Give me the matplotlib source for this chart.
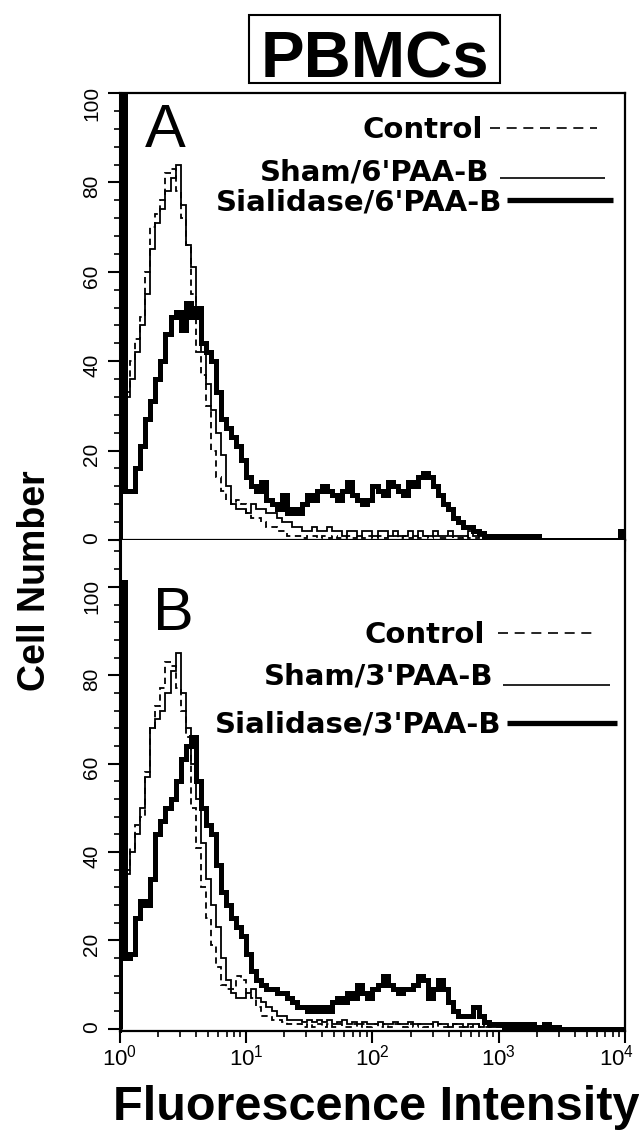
import numpy as np
import matplotlib.pyplot as plt
from matplotlib.patches import Rectangle
from matplotlib.ticker import MultipleLocator, LogLocator, NullFormatter
from matplotlib.transforms import ScaledTranslation

plt.rcParams['font.family'] = ['Liberation Sans', 'DejaVu Sans']
plt.rcParams['mathtext.default'] = 'regular'

# channel edges: 25 channels per decade, 10^0 .. 10^4
edges = np.logspace(0, 4, 101)

# panel A (6'PAA-B) cell counts per channel
ctrl_6 = [30, 33, 40, 45, 50, 60, 70, 73, 76, 82,
          83, 78, 72, 66, 55, 42, 37, 30, 20, 14,
          11, 9, 8, 9, 8, 6, 5, 5, 4, 3,
          3, 2, 2, 1, 1, 1, 0.5, 1, 1, 0.5,
          1, 0.5, 1, 0.5, 0.5, 1, 0.5, 1, 0.5, 1,
          0.5, 1, 0.5, 1, 1, 0.5, 1, 0.5, 1, 0.5,
          1, 0.5, 1, 0.5, 0.5, 1, 0.5, 0.5, 1, 0.5,
          0.5, 1, 0.5, 0.5, 0.5, 0.5, 1, 0.5, 0, 0.5,
          0.5, 0, 0.5, 0, 0, 0, 0, 0, 0, 0,
          0, 0, 0, 0, 0, 0, 0, 0, 0, 0]
sham_6 = [30, 32, 36, 42, 48, 55, 65, 71, 74, 78,
          81, 84, 75, 66, 61, 52, 42, 35, 29, 24,
          19, 12, 8, 7, 7, 6, 8, 7, 7, 6,
          6, 5, 4, 4, 3, 3, 2, 2, 3, 2,
          2, 3, 2, 2, 1, 2, 2, 1, 2, 2,
          1, 2, 2, 1, 2, 1, 1, 2, 1, 2,
          1, 1, 2, 1, 1, 2, 1, 1, 1, 2,
          1, 1, 1, 1, 0.5, 1, 1, 0.5, 1, 0.5,
          1, 0.5, 0.5, 0, 0, 0, 0, 0, 0, 0,
          0, 0, 0, 0, 0, 0, 0, 0, 0, 0]
sial_6 = [101, 11, 11, 16, 21, 27, 31, 36, 40, 46,
          50, 51, 47, 53, 50, 52, 44, 42, 40, 33,
          27, 25, 23, 21, 18, 14, 12, 11, 13, 9,
          8, 7, 10, 6, 7, 6, 8, 10, 9, 11,
          12, 11, 10, 9, 11, 13, 10, 9, 8, 9,
          12, 11, 10, 13, 12, 11, 10, 13, 12, 14,
          15, 14, 12, 10, 8, 7, 5, 4, 3, 3,
          2, 1.5, 1, 1, 1, 1, 1, 0.5, 1, 0.5,
          1, 0.5, 1, 0, 0, 0, 0, 0, 0, 0,
          0, 0, 0, 0, 0, 0, 0, 0, 0, 2]

# panel B (3'PAA-B)
ctrl_3 = [30, 35, 41, 46, 48, 58, 68, 73, 77, 83,
          82, 77, 72, 66, 50, 41, 32, 25, 19, 14,
          10, 9, 9, 12, 11, 8, 7, 5, 3, 3,
          2, 2, 1.5, 1, 1, 1, 0.5, 1, 0.5, 1,
          0.5, 1, 0.5, 1, 0.5, 0.5, 1, 0.5, 1, 0.5,
          1, 0.5, 1, 0.5, 1, 1, 0.5, 1, 0.5, 1,
          0.5, 1, 0.5, 1, 0.5, 0.5, 1, 0.5, 0.5, 0.5,
          1, 0.5, 0.5, 0.5, 0.5, 0.5, 0, 0.5, 0, 0,
          0, 0, 0, 0, 0, 0, 0, 0, 0, 0,
          0, 0, 0, 0, 0, 0, 0, 0, 0, 0]
sham_3 = [30, 36, 40, 44, 50, 57, 68, 70, 72, 76,
          81, 85, 76, 68, 60, 52, 42, 34, 28, 23,
          16, 11, 8, 7, 7, 8, 9, 7, 6, 5,
          4, 3, 3, 2, 2, 2, 1.5, 2, 1.5, 2,
          1.5, 2, 1, 1.5, 2, 1, 1.5, 1, 1.5, 1,
          1, 1.5, 1, 1, 1.5, 1, 1, 1.5, 1, 1,
          1, 1, 1.5, 1, 1, 0.5, 1, 1, 0.5, 1,
          1, 0.5, 1, 0.5, 0.5, 0.5, 1, 0.5, 0.5, 0.5,
          0.5, 0.5, 0, 0, 0, 0, 0, 0, 0, 0,
          0, 0, 0, 0, 0, 0, 0, 0, 0, 0]
sial_3 = [101, 16, 17, 25, 29, 28, 34, 44, 47, 50,
          52, 56, 61, 64, 66, 56, 50, 46, 44, 37,
          31, 28, 25, 23, 21, 17, 13, 11, 10, 9,
          9, 8, 8, 7, 6, 5, 5, 4, 5, 4,
          5, 4, 6, 7, 6, 8, 7, 10, 8, 7,
          9, 10, 12, 10, 9, 8, 9, 9, 10, 12,
          11, 7, 9, 11, 9, 6, 4, 3, 3, 3,
          5, 3, 1.5, 1, 1, 1, 0.5, 1, 0.5, 1,
          0.5, 1, 0.5, 0.5, 1, 0.5, 0.5, 0, 0, 0,
          0, 0, 0, 0, 0, 0, 0, 0, 0, 0]

labels_6 = ['Control', "Sham/6'PAA-B", "Sialidase/6'PAA-B"]
labels_3 = ['Control', "Sham/3'PAA-B", "Sialidase/3'PAA-B"]

W, H = 639, 1134
fig = plt.figure(figsize=(W / 100, H / 100), dpi=100)


def px_axes(left, top, right, bottom):
    return fig.add_axes([left / W, 1 - bottom / H, (right - left) / W, (bottom - top) / H])


axA = px_axes(120, 93, 625, 540)
axB = px_axes(120, 540, 625, 1031)


def style(ax, ylim, xlabels):
    ax.set_xscale('log')
    ax.set_xlim(1, 1e4)
    ax.set_ylim(*ylim)
    ax.yaxis.set_major_locator(MultipleLocator(20))
    ax.yaxis.set_minor_locator(MultipleLocator(4))
    ax.xaxis.set_major_locator(LogLocator(10))
    ax.xaxis.set_minor_locator(LogLocator(10, subs=np.arange(2, 10)))
    ax.xaxis.set_minor_formatter(NullFormatter())
    ax.tick_params(which='major', direction='out', length=8.5, width=1.5)
    ax.tick_params(which='minor', direction='out', length=4, width=1.2)
    ax.tick_params(axis='y', labelrotation=90, pad=5, labelsize=15)
    ax.tick_params(axis='x', labelbottom=xlabels, pad=1, labelsize=16)
    ax.spines['left'].set_linewidth(2.2)
    for s in ['right', 'top', 'bottom']:
        ax.spines[s].set_linewidth(1.6)


style(axA, (0, 100), False)
style(axB, (-0.5, 110.6), True)
axB.spines['top'].set_visible(False)


def draw(ax, ctrl, sham, sial):
    ax.stairs(ctrl, edges, color='black', lw=1.3, linestyle=(0, (3.5, 2.5)))
    ax.stairs(sham, edges, color='black', lw=1.3)
    ax.stairs(sial, edges, color='black', lw=3.6)


draw(axA, ctrl_6, sham_6, sial_6)
draw(axB, ctrl_3, sham_3, sial_3)


def key(ax, labels, rows):
    # rows: (text right x, text baseline y, line x0, line x1, line y) in axes fraction
    styles = [dict(lw=1.2, linestyle=(0, (6, 4))), dict(lw=1.2), dict(lw=3.8)]
    for lab, (xr, yb, x0, x1, yl), st in zip(labels, rows, styles):
        ax.text(xr, yb, lab, transform=ax.transAxes, ha='right', va='baseline',
                fontsize=21, fontweight='bold', family=['DejaVu Sans'])
        ax.plot([x0, x1], [yl, yl], transform=ax.transAxes, color='black',
                solid_capstyle='butt', clip_on=False, **st)


key(axA, labels_6, [(0.719, 0.900, 0.733, 0.945, 0.922),
                    (0.731, 0.805, 0.752, 0.960, 0.810),
                    (0.756, 0.738, 0.766, 0.976, 0.761)])
key(axB, labels_3, [(0.723, 0.790, 0.749, 0.947, 0.811),
                    (0.739, 0.705, 0.758, 0.970, 0.705),
                    (0.756, 0.607, 0.766, 0.984, 0.627)])

axA.text(0.0495, 0.879, 'A', transform=axA.transAxes, fontsize=44, va='baseline')
axB.text(0.065, 0.817, 'B', transform=axB.transAxes, fontsize=44, va='baseline')

# boxed title
fig.add_artist(Rectangle((249 / W, 1 - 83 / H), 251 / W, 68 / H, transform=fig.transFigure,
                         fill=False, lw=1.5, ec='black'))
fig.text(375 / W, 1 - 77 / H, 'PBMCs', ha='center', va='baseline',
         fontsize=47, fontweight='bold')

fig.text(35 / W, 1 - 581 / H, 'Cell Number', rotation=90, ha='center', va='center',
         fontsize=27, fontweight='bold')
fig.text(376 / W, 1 - 1120 / H, 'Fluorescence Intensity', ha='center', va='baseline',
         fontsize=35, fontweight='bold')

# nudge the last decade label so it stays inside the figure
fig.canvas.draw()
for t in axB.get_xticklabels():
    if '{4}' in t.get_text():
        t.set_transform(t.get_transform() + ScaledTranslation(-6 / 72, 0, fig.dpi_scale_trans))

fig.savefig('out.png', dpi=100)
